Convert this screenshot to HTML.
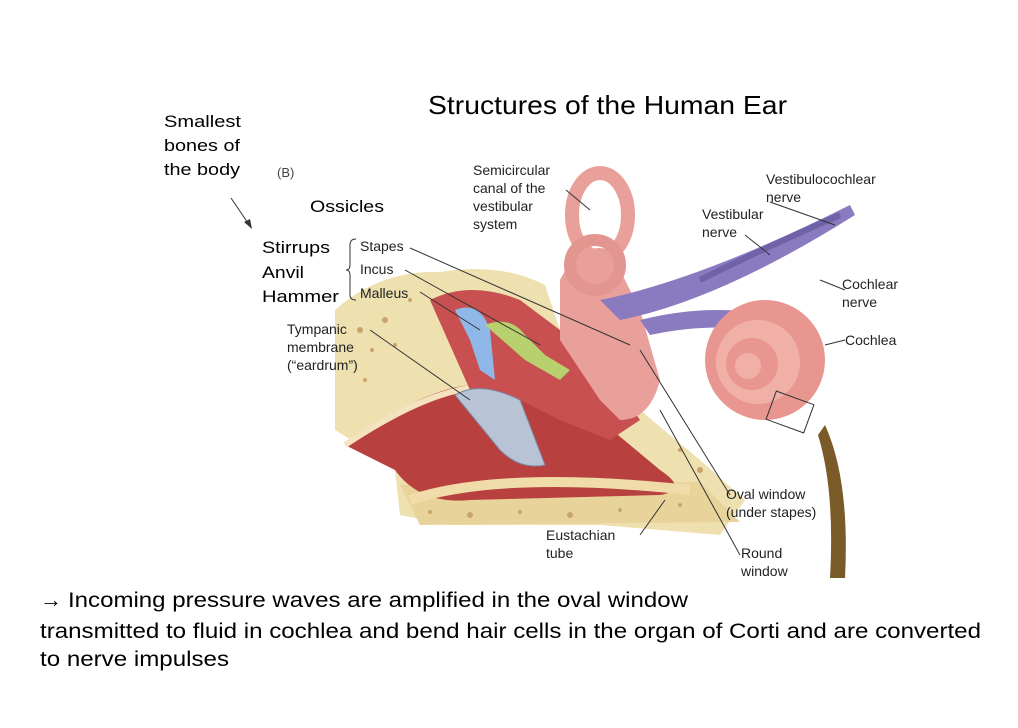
<!DOCTYPE html>
<html><head><meta charset="utf-8"><style>
body{margin:0;background:#fff;width:1018px;height:728px;overflow:hidden;font-family:"Liberation Sans",sans-serif;}
svg{position:absolute;left:0;top:0}
</style></head><body>
<svg width="1018" height="728" viewBox="0 0 1018 728" font-family="Liberation Sans, sans-serif">
<!-- bone background -->
<path d="M335 310 Q380 270 440 272 Q500 262 545 285 L560 330 L640 410 L700 460 L745 500 L720 535 L600 525 L450 525 L400 515 L395 470 Q360 445 335 430 Z" fill="#efe0b0"/>
<path d="M400 485 L700 482 L740 522 L420 525 Z" fill="#e8d49a"/>
<g fill="#c9a46a">
<circle cx="360" cy="330" r="3"/><circle cx="372" cy="350" r="2"/><circle cx="385" cy="320" r="3"/><circle cx="365" cy="380" r="2"/><circle cx="395" cy="345" r="2"/><circle cx="410" cy="300" r="2"/><circle cx="430" cy="512" r="2"/><circle cx="470" cy="515" r="3"/><circle cx="520" cy="512" r="2"/><circle cx="570" cy="515" r="3"/><circle cx="620" cy="510" r="2"/><circle cx="680" cy="505" r="2"/><circle cx="700" cy="470" r="3"/><circle cx="680" cy="450" r="2"/>
</g>
<!-- ear canal red -->
<path d="M345 445 Q420 390 470 385 L520 395 Q560 380 600 420 L660 470 Q690 490 660 495 L470 500 Q420 505 395 470 Z" fill="#b8413f"/>
<path d="M345 445 Q420 395 470 388" stroke="#f5e3c0" stroke-width="6" fill="none"/>
<path d="M410 500 Q500 470 690 490" stroke="#f0dca8" stroke-width="10" fill="none"/>
<!-- middle ear cavity -->
<path d="M430 300 Q470 280 520 300 L600 360 L640 420 L610 440 L560 420 L520 400 L470 390 Z" fill="#c85050"/>
<!-- eardrum -->
<path d="M455 395 Q480 380 520 400 L545 465 Q520 470 500 450 Z" fill="#b8c4d6" stroke="#7b8aa3"/>
<path d="M455 310 Q480 300 490 330 L495 380 L480 370 L470 340 Z" fill="#8fb8e8"/>
<path d="M485 325 Q510 315 525 335 L545 355 L570 370 L560 380 L525 360 Z" fill="#b9d06f"/>
<path d="M590 345 L625 330 L640 350 L610 365 Z" fill="#d89a3a"/>
<!-- vestibule / semicircular canals -->
<path d="M560 280 Q580 240 610 250 L640 310 L660 380 Q650 420 620 420 L600 400 L560 340 Z" fill="#e9a09a"/>
<ellipse cx="600" cy="215" rx="28" ry="42" fill="none" stroke="#e9a09a" stroke-width="14"/>
<ellipse cx="595" cy="265" rx="25" ry="25" fill="none" stroke="#e39590" stroke-width="12"/>
<!-- nerves -->
<path d="M600 300 Q700 280 850 205 L855 215 Q720 300 620 320 Z" fill="#8a7bc0"/>
<path d="M640 320 Q720 300 790 320 L785 335 Q720 320 650 335 Z" fill="#8a7bc0"/>
<path d="M700 280 Q760 250 840 215" stroke="#6f62a8" stroke-width="6" fill="none"/>
<!-- cochlea -->
<circle cx="765" cy="360" r="60" fill="#e8968f"/>
<circle cx="758" cy="362" r="42" fill="#f0b0a8"/>
<circle cx="752" cy="364" r="26" fill="#e8968f"/>
<circle cx="748" cy="366" r="13" fill="#f0b0a8"/>
<rect x="770" y="397" width="40" height="30" fill="none" stroke="#333" transform="rotate(20 790 412)"/>
<path d="M825 425 Q850 480 845 578 L830 578 Q835 490 818 435 Z" fill="#7a5a26"/>
<!-- leader lines -->
<g stroke="#333" stroke-width="1" fill="none">
<path d="M566 190 L590 210"/><path d="M770 202 L835 225"/><path d="M745 235 L770 255"/>
<path d="M845 290 L820 280"/><path d="M845 340 L825 345"/>
<path d="M410 248 L630 345"/><path d="M405 270 L540 345"/><path d="M420 292 L480 330"/>
<path d="M370 330 L470 400"/><path d="M730 495 L640 350"/><path d="M740 555 L660 410"/>
<path d="M640 535 L665 500"/>
<path d="M231 198 L250 226"/>
</g>
<polygon points="252,229 244,222 250,219" fill="#333"/>
<path d="M356 239 Q350 239 350 245 L350 265 Q350 270 346 270 Q350 270 350 275 L350 295 Q350 300 356 300" fill="none" stroke="#333"/>
<!-- texts -->
<text x="428" y="114" font-size="26" textLength="359" lengthAdjust="spacingAndGlyphs" fill="#000">Structures of the Human Ear</text>
<g font-size="17" fill="#000">
<text x="164" y="127" textLength="77" lengthAdjust="spacingAndGlyphs">Smallest</text><text x="164" y="151" textLength="76" lengthAdjust="spacingAndGlyphs">bones of</text><text x="164" y="175" textLength="76" lengthAdjust="spacingAndGlyphs">the body</text>
<text x="310" y="212" textLength="74" lengthAdjust="spacingAndGlyphs">Ossicles</text>
<text x="262" y="253" textLength="68" lengthAdjust="spacingAndGlyphs">Stirrups</text><text x="262" y="278" textLength="42" lengthAdjust="spacingAndGlyphs">Anvil</text><text x="262" y="302" textLength="77" lengthAdjust="spacingAndGlyphs">Hammer</text>
</g>
<text x="277" y="177" font-size="13" fill="#444">(B)</text>
<g font-size="14" fill="#222">
<text x="360" y="251">Stapes</text><text x="360" y="274">Incus</text><text x="360" y="298">Malleus</text>
<text x="473" y="175">Semicircular</text><text x="473" y="193">canal of the</text><text x="473" y="211">vestibular</text><text x="473" y="229">system</text>
<text x="766" y="184">Vestibulocochlear</text><text x="766" y="202">nerve</text>
<text x="702" y="219">Vestibular</text><text x="702" y="237">nerve</text>
<text x="842" y="289">Cochlear</text><text x="842" y="307">nerve</text>
<text x="845" y="345">Cochlea</text>
<text x="287" y="334">Tympanic</text><text x="287" y="352">membrane</text><text x="287" y="370">(“eardrum”)</text>
<text x="726" y="499">Oval window</text><text x="726" y="517">(under stapes)</text>
<text x="741" y="558">Round</text><text x="741" y="576">window</text>
<text x="546" y="540">Eustachian</text><text x="546" y="558">tube</text>
</g>
<g font-size="21" fill="#000">
<text x="40" y="607" font-size="22">→</text>
<text x="68" y="607" textLength="620" lengthAdjust="spacingAndGlyphs">Incoming pressure waves are amplified in the oval window</text>
<text x="40" y="638" textLength="941" lengthAdjust="spacingAndGlyphs">transmitted to fluid in cochlea and bend hair cells in the organ of Corti and are converted</text>
<text x="40" y="666" textLength="189" lengthAdjust="spacingAndGlyphs">to nerve impulses</text>
</g>
</svg>
</body></html>
